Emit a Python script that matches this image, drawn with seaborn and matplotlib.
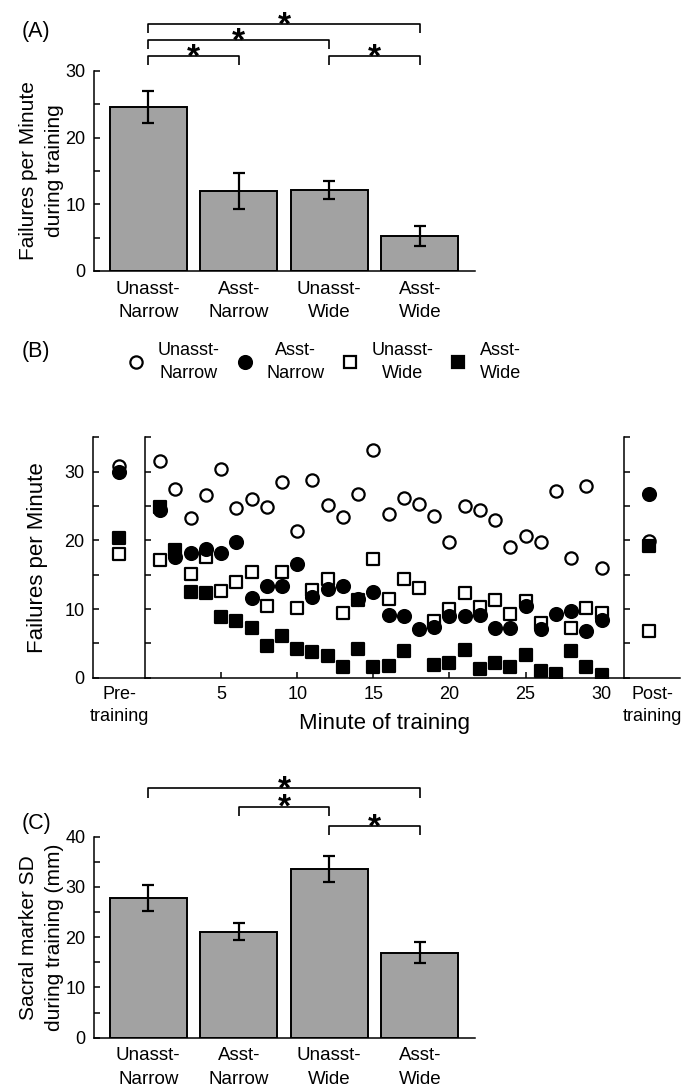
import numpy as np
import pandas as pd
import matplotlib
matplotlib.use('Agg')
import matplotlib.pyplot as plt
import seaborn as sns
from matplotlib.lines import Line2D

# ---- data ----
groups = ['Unasst-\nNarrow', 'Asst-\nNarrow', 'Unasst-\nWide', 'Asst-\nWide']

fail_mean = [24.6, 12.0, 12.2, 5.3]
fail_err = [2.4, 2.65, 1.35, 1.5]

sacral_mean = [27.8, 21.1, 33.6, 16.9]
sacral_err = [2.5, 1.7, 2.65, 2.05]

minutes = list(range(1, 31))
unasst_narrow = [31.5, 27.5, 23.2, 26.6, 30.4, 24.7, 26.0, 24.9, 28.5, 21.4,
                 28.8, 25.1, 23.4, 26.7, 33.1, 23.8, 26.1, 25.3, 23.5, 19.7,
                 25.0, 24.4, 22.9, 19.1, 20.6, 19.7, 27.2, 17.5, 27.9, 15.9]
asst_narrow = [24.4, 17.6, 18.1, 18.8, 18.1, 19.8, 11.6, 13.3, 13.3, 16.5,
               11.7, 12.9, 13.3, 11.4, 12.5, 9.1, 9.0, 7.1, 7.4, 9.0,
               9.0, 9.1, 7.3, 7.3, 10.5, 7.1, 9.3, 9.7, 6.8, 8.4]
unasst_wide = [17.2, np.nan, 15.1, 17.6, 12.6, 14.0, 15.4, 10.4, 15.4, 10.2,
               12.7, 14.4, 9.4, 11.3, 17.3, 11.5, 14.4, 13.0, 8.2, 10.0,
               12.4, 10.3, 11.3, 9.3, 11.1, 8.0, np.nan, 7.2, 10.1, 9.4]
asst_wide = [24.8, 18.6, 12.5, 12.4, 8.8, 8.3, 7.3, 4.6, 6.0, 4.2,
             3.8, 3.1, 1.6, 4.2, 1.5, 1.7, 3.9, np.nan, 1.85, 2.2,
             4.0, 1.2, 2.2, 1.5, 3.3, 1.0, 0.6, 3.9, 1.6, 0.4]

# pre / post training values: unasst-narrow, asst-narrow, unasst-wide, asst-wide
pre_vals = [30.8, 30.0, 18.0, 20.4]
post_vals = [19.95, 26.7, 6.8, 19.2]

# significance brackets (group index pairs)
sig_a = [(0, 3), (0, 2), (0, 1), (2, 3)]
sig_c = [(0, 3), (1, 2), (2, 3)]

# ---- style ----
sns.set_theme(style='ticks')
plt.rcParams['font.family'] = ['Liberation Sans', 'DejaVu Sans']
plt.rcParams['axes.linewidth'] = 1.1
plt.rcParams['xtick.major.width'] = 1.1
plt.rcParams['ytick.major.width'] = 1.1
plt.rcParams['axes.edgecolor'] = 'black'
plt.rcParams['text.color'] = 'black'
plt.rcParams['xtick.color'] = 'black'
plt.rcParams['ytick.color'] = 'black'
plt.rcParams['axes.labelcolor'] = 'black'

W, H = 692, 1087
fig = plt.figure(figsize=(W / 100, H / 100), dpi=100)


def px_axes(left, top, right, bottom):
    return fig.add_axes([left / W, 1 - bottom / H, (right - left) / W, (bottom - top) / H])


BAR_COLOR = '#a2a2a2'
series = [
    ('Unasst-\nNarrow', unasst_narrow, 'o', 'white', 78, 1),
    ('Unasst-\nWide', unasst_wide, 's', 'white', 64, 2),
    ('Asst-\nNarrow', asst_narrow, 'o', 'black', 86, 3),
    ('Asst-\nWide', asst_wide, 's', 'black', 64, 4),
]


def bar_panel(ax, means, errs, ymax, ylabel, brackets, bracket_ys, leg, label):
    df = pd.DataFrame({'group': groups, 'value': means})
    sns.barplot(data=df, x='group', y='value', order=groups, color=BAR_COLOR,
                saturation=1, width=0.85, errorbar=None, edgecolor='black',
                linewidth=1.4, ax=ax)
    ax.errorbar(x=range(len(groups)), y=means, yerr=errs, fmt='none',
                ecolor='black', elinewidth=1.6, capsize=4.3, capthick=1.6)
    ax.set_xlim(-0.6, 3.61)
    ax.set_ylim(0, ymax)
    ax.set_yticks(np.arange(0, ymax + 1, 5))
    ax.set_yticklabels([str(int(v)) if v % 10 == 0 else '' for v in np.arange(0, ymax + 1, 5)])
    ax.tick_params(axis='y', direction='in', length=4, labelsize=13, pad=6)
    ax.tick_params(axis='x', length=0, labelsize=13.5, pad=7)
    for t in ax.get_xticklabels():
        t.set_linespacing(1.5)
    ax.set_xlabel('')
    ax.set_ylabel(ylabel, fontsize=15, labelpad=1, linespacing=1.5)
    sns.despine(ax=ax)
    for (i, j), y in zip(brackets, bracket_ys):
        ax.plot([i, i, j, j], [y - leg, y, y, y - leg], color='black', lw=1.2,
                clip_on=False, solid_capstyle='butt')
        ax.annotate('*', xy=((i + j) / 2, y), xytext=(0, -7.5), textcoords='offset points',
                    ha='center', va='baseline', fontsize=24, fontweight='bold',
                    annotation_clip=False)
    fig.text(label[0] / W, 1 - label[1] / H, label[2], fontsize=15.5, ha='left', va='center')


# ---- panel A ----
axA = px_axes(94, 71, 475, 271)
bar_panel(axA, fail_mean, fail_err, 30, 'Failures per Minute\nduring training',
          sig_a, [37.1, 34.7, 32.2, 32.2], 1.35, (22, 32, '(A)'))

# ---- panel B ----
top_b, bot_b = 437.3, 677.7
ax_pre = px_axes(93, top_b, 145, bot_b)
ax_main = px_axes(145, top_b, 624, bot_b)
ax_post = px_axes(624, top_b, 680, bot_b)

long = pd.DataFrame({'minute': minutes * 4,
                     'value': unasst_narrow + unasst_wide + asst_narrow + asst_wide,
                     'group': sum([[s[0]] * 30 for s in series], [])})
side = pd.DataFrame({'pos': [0] * 4,
                     'pre': [pre_vals[0], pre_vals[2], pre_vals[1], pre_vals[3]],
                     'post': [post_vals[0], post_vals[2], post_vals[1], post_vals[3]],
                     'group': [s[0] for s in series]})

for name, _, mk, fc, sz, z in series:
    sub = long[long['group'] == name]
    sns.scatterplot(data=sub, x='minute', y='value', marker=mk, s=sz, color=fc,
                    edgecolor='black', linewidth=1.6, zorder=z, ax=ax_main, legend=False)
    sb = side[side['group'] == name]
    sns.scatterplot(data=sb, x='pos', y='pre', marker=mk, s=sz, color=fc,
                    edgecolor='black', linewidth=1.6, zorder=z, ax=ax_pre, legend=False)
    sns.scatterplot(data=sb, x='pos', y='post', marker=mk, s=sz, color=fc,
                    edgecolor='black', linewidth=1.6, zorder=z, ax=ax_post, legend=False)

yt = np.arange(0, 36, 5)
for ax in (ax_pre, ax_main, ax_post):
    ax.set_ylim(0, 35)
    ax.set_yticks(yt)
    ax.tick_params(axis='y', direction='in', length=4, labelsize=13, pad=6)
    ax.set_ylabel('')
    ax.set_xlabel('')
    sns.despine(ax=ax)
    ax.patch.set_alpha(0)
ax_pre.set_yticklabels([str(v) if v % 10 == 0 else '' for v in yt])
ax_main.set_yticklabels([])
ax_post.set_yticklabels([])

ax_pre.set_xlim(-1, 1)
ax_pre.set_xticks([])
ax_post.set_xlim(-0.9, 1.1)
ax_post.set_xticks([])
ax_main.set_xlim(0, 31.47)
ax_main.set_xticks([5, 10, 15, 20, 25, 30])
ax_main.tick_params(axis='x', direction='in', length=4, labelsize=13, pad=6)

ax_pre.set_xlabel('Pre-\ntraining', fontsize=13, labelpad=6, linespacing=1.4)
ax_post.set_xlabel('Post-\ntraining', fontsize=13, labelpad=6, linespacing=1.4)
ax_main.set_xlabel('Minute of training', fontsize=16, labelpad=7)
ax_pre.set_ylabel('Failures per Minute', fontsize=16, labelpad=12)

handles = [Line2D([], [], marker=s[2], linestyle='none', markerfacecolor=s[3],
                  markeredgecolor='black', markeredgewidth=1.6,
                  markersize=np.sqrt(s[4])) for s in series]
order = [0, 2, 1, 3]
leg = fig.legend([handles[i] for i in order], [series[i][0] for i in order],
                 loc='center', bbox_to_anchor=(324 / W, 1 - 362 / H), ncol=4,
                 frameon=False, fontsize=13, handletextpad=0.7, columnspacing=0.9,
                 handlelength=1.0)
for t in leg.get_texts():
    t.set_multialignment('center')
    t.set_linespacing(1.4)
fig.text(22 / W, 1 - 352 / H, '(B)', fontsize=15.5, ha='left', va='center')

# ---- panel C ----
axC = px_axes(94, 836.7, 475, 1037.7)
bar_panel(axC, sacral_mean, sacral_err, 40, 'Sacral marker SD\nduring training (mm)',
          sig_c, [49.6, 46.0, 42.1], 1.8, (22, 823, '(C)'))

fig.savefig('out.png', dpi=100)
